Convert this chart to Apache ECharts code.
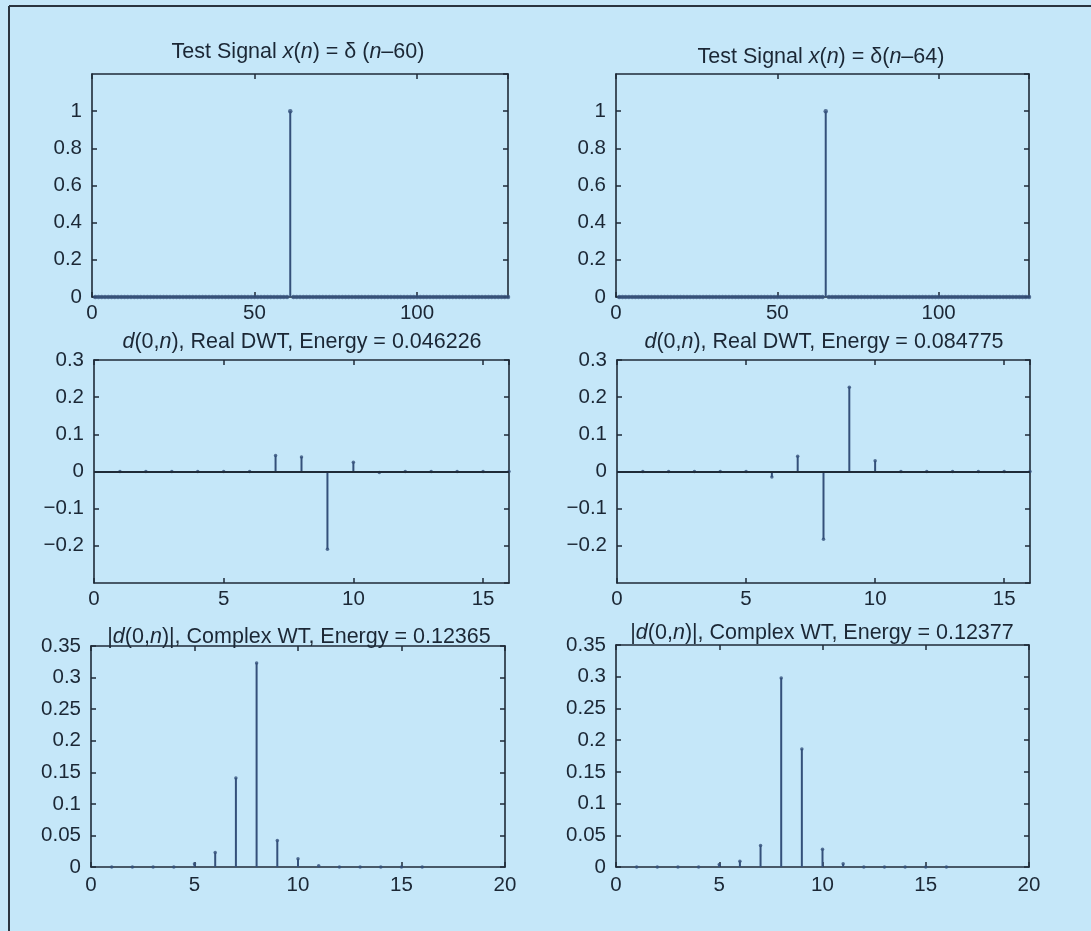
<!DOCTYPE html>
<html>
<head>
<meta charset="utf-8">
<script src="https://cdn.jsdelivr.net/npm/echarts@6/dist/echarts.min.js"></script>
<style>
html,body{margin:0;padding:0;background:#c5e7f9;}
#chart{width:1091px;height:931px;}
</style>
</head>
<body>
<div id="chart"></div>
<script>
// ---- data ----
// Test signals, n = 1..128
const testSignalA = [
0,0,0,0,0,0,0,0,0,0,0,0,0,0,0,0,0,0,0,0,0,0,0,0,0,0,0,0,0,0,0,0,
0,0,0,0,0,0,0,0,0,0,0,0,0,0,0,0,0,0,0,0,0,0,0,0,0,0,0,0,1,0,0,0,
0,0,0,0,0,0,0,0,0,0,0,0,0,0,0,0,0,0,0,0,0,0,0,0,0,0,0,0,0,0,0,0,
0,0,0,0,0,0,0,0,0,0,0,0,0,0,0,0,0,0,0,0,0,0,0,0,0,0,0,0,0,0,0,0];
const testSignalB = [
0,0,0,0,0,0,0,0,0,0,0,0,0,0,0,0,0,0,0,0,0,0,0,0,0,0,0,0,0,0,0,0,
0,0,0,0,0,0,0,0,0,0,0,0,0,0,0,0,0,0,0,0,0,0,0,0,0,0,0,0,0,0,0,0,
1,0,0,0,0,0,0,0,0,0,0,0,0,0,0,0,0,0,0,0,0,0,0,0,0,0,0,0,0,0,0,0,
0,0,0,0,0,0,0,0,0,0,0,0,0,0,0,0,0,0,0,0,0,0,0,0,0,0,0,0,0,0,0,0];
// Real DWT coefficients d(0,n), n = 1..16
const dwtA = [0,0,0,0,0,0,0.043,0.039,-0.209,0.025,-0.003,0,0,0,0,0];
const dwtB = [0,0,0,0,0,-0.015,0.041,-0.182,0.227,0.029,0,0,0,0,0,0];
// |d(0,n)| complex WT, n = 1..16
const cwtA = [0,0,0,0,0.005,0.023,0.141,0.323,0.042,0.013,0.002,0,0,0,0,0];
const cwtB = [0,0,0,0,0.004,0.009,0.034,0.298,0.186,0.028,0.005,0,0,0,0,0];

const titles = [
  'Test Signal {i|x}({i|n}) = δ ({i|n}–60)',
  'Test Signal {i|x}({i|n}) = δ({i|n}–64)',
  '{i|d}(0,{i|n}), Real DWT, Energy = 0.046226',
  '{i|d}(0,{i|n}), Real DWT, Energy = 0.084775',
  '|{i|d}(0,{i|n})|, Complex WT, Energy = 0.12365',
  '|{i|d}(0,{i|n})|, Complex WT, Energy = 0.12377'
];

// ---- layout ----
const panels = [
  {grid:{left:92,top:74,width:416,height:223}, data:testSignalA, x:[0,128,50], y:[0,1.2,0.2], hideYMax:true, hideYMin:false, hideXMax:true, baseline:false, sym:4.5, xm:6, title:[298,52]},
  {grid:{left:616,top:74,width:413,height:223}, data:testSignalB, x:[0,128,50], y:[0,1.2,0.2], hideYMax:true, hideYMin:false, hideXMax:true, baseline:false, sym:4.5, xm:6, title:[821,57]},
  {grid:{left:94,top:360,width:415,height:223}, data:dwtA, x:[0,16,5], y:[-0.3,0.3,0.1], hideYMax:false, hideYMin:true, hideXMax:true, baseline:true, sym:3.5, xm:6, title:[302,342]},
  {grid:{left:617,top:360,width:413,height:223}, data:dwtB, x:[0,16,5], y:[-0.3,0.3,0.1], hideYMax:false, hideYMin:true, hideXMax:true, baseline:true, sym:3.5, xm:6, title:[824,342]},
  {grid:{left:91,top:646,width:414,height:221}, data:cwtA, x:[0,20,5], y:[0,0.35,0.05], hideYMax:false, hideYMin:false, hideXMax:false, baseline:false, sym:3.5, xm:8, title:[299,637]},
  {grid:{left:616,top:645,width:413,height:222}, data:cwtB, x:[0,20,5], y:[0,0.35,0.05], hideYMax:false, hideYMin:false, hideXMax:false, baseline:false, sym:3.5, xm:8, title:[822,633]}
];

const axisColor = '#1f2b38';
const textColor = '#1b2735';
const stemColor = '#34507a';
const font = 'Liberation Sans, Arial, sans-serif';

const grids = [], xAxes = [], yAxes = [], series = [], graphics = [];
const fmt = v => String(+v.toFixed(4)).replace('-', '−');

panels.forEach((p, i) => {
  grids.push(Object.assign({show:true, backgroundColor:'#c5e7f9', borderWidth:0}, p.grid));
  const line = {show:true, onZero:false, lineStyle:{color:axisColor, width:1.6}};
  const tick = {show:true, inside:true, length:5, lineStyle:{color:axisColor, width:1.5}};
  xAxes.push({gridIndex:i, type:'value', position:'bottom', min:p.x[0], max:p.x[1], interval:p.x[2],
    axisLine:line, axisTick:tick, splitLine:{show:false},
    axisLabel:{fontSize:20.5, fontFamily:font, color:textColor, margin:p.xm, showMaxLabel:!p.hideXMax, formatter:fmt}});
  xAxes.push({gridIndex:i, type:'value', position:'top', min:p.x[0], max:p.x[1], interval:p.x[2],
    axisLine:line, axisTick:tick, splitLine:{show:false}, axisLabel:{show:false}});
  yAxes.push({gridIndex:i, type:'value', position:'left', min:p.y[0], max:p.y[1], interval:p.y[2],
    axisLine:line, axisTick:tick, splitLine:{show:false},
    axisLabel:{fontSize:20.5, fontFamily:font, color:textColor, margin:10, showMaxLabel:!p.hideYMax, showMinLabel:!p.hideYMin, formatter:fmt}});
  yAxes.push({gridIndex:i, type:'value', position:'right', min:p.y[0], max:p.y[1], interval:p.y[2],
    axisLine:line, axisTick:tick, splitLine:{show:false}, axisLabel:{show:false}});

  const pts = p.data.map((v, k) => [k + 1, v]);
  const bar = {type:'bar', xAxisIndex:2*i, yAxisIndex:2*i, data:pts, barWidth:2,
    itemStyle:{color:stemColor}, silent:true, animation:false};
  if (p.baseline) {
    bar.markLine = {silent:true, symbol:'none', animation:false, label:{show:false},
      lineStyle:{color:axisColor, width:1.8, type:'solid'}, data:[{yAxis:0}]};
  }
  series.push(bar);
  series.push({type:'scatter', xAxisIndex:2*i, yAxisIndex:2*i, data:pts, symbol:'circle', symbolSize:p.sym,
    itemStyle:{color:stemColor}, silent:true, animation:false});

  graphics.push({type:'text', x:p.title[0], y:p.title[1], silent:true,
    style:{text:titles[i], fill:textColor, font:'21.5px ' + font, align:'center', verticalAlign:'middle',
      rich:{i:{fontStyle:'italic', fontSize:21.5, fontFamily:font, fill:textColor}}}});
});

// outer frame (top and left edges)
graphics.push({type:'line', shape:{x1:9, y1:6, x2:1091, y2:6}, style:{stroke:'#2a3440', lineWidth:2}, silent:true});
graphics.push({type:'line', shape:{x1:9, y1:6, x2:9, y2:931}, style:{stroke:'#2a3440', lineWidth:2}, silent:true});

const chart = echarts.init(document.getElementById('chart'), null, {renderer:'canvas'});
chart.setOption({
  backgroundColor:'#c5e7f9',
  animation:false,
  grid:grids, xAxis:xAxes, yAxis:yAxes, series:series, graphic:graphics
});
</script>
</body>
</html>
